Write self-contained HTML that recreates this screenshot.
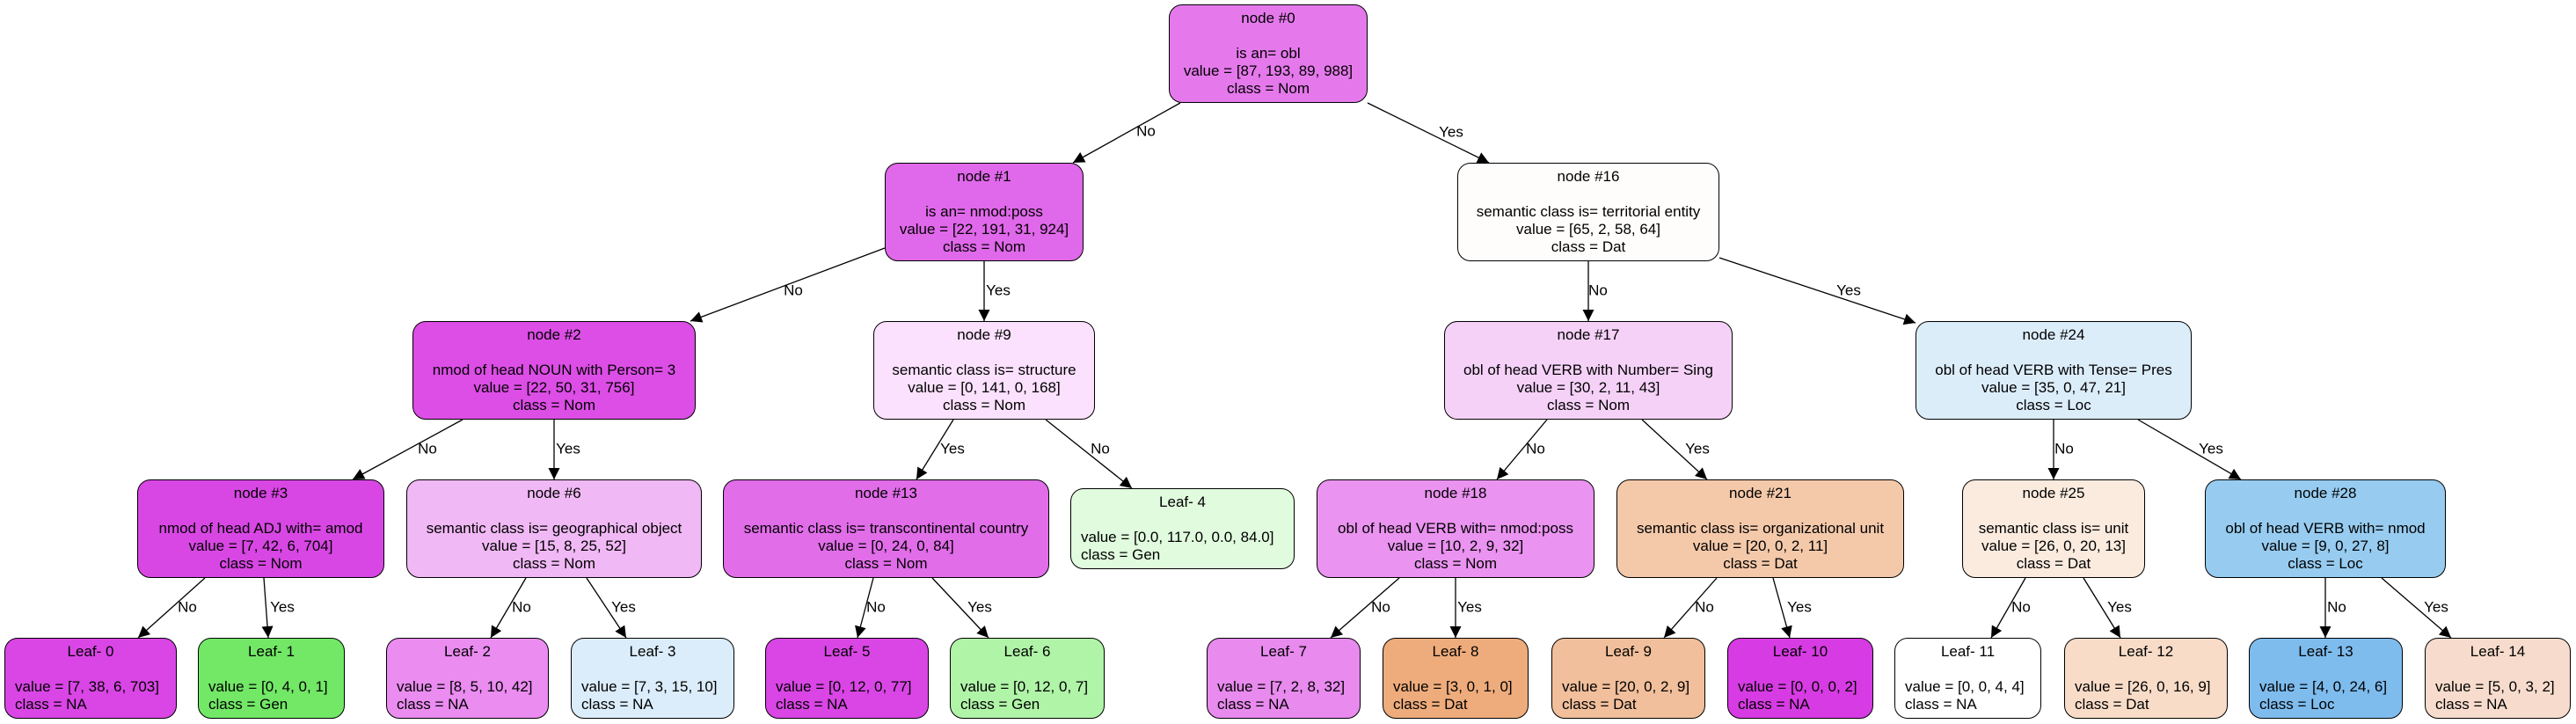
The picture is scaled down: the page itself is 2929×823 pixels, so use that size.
<!DOCTYPE html>
<html><head><meta charset="utf-8">
<style>
html,body{margin:0;padding:0;background:#fff;}
body{width:2929px;height:823px;position:relative;overflow:hidden;font-family:"Liberation Sans",Arial,sans-serif;}
.n{position:absolute;box-sizing:border-box;border:1.4px solid #000;border-radius:15px;text-align:center;font-size:17px;line-height:20px;padding-top:5px;color:#000;white-space:nowrap;}
.i{top:0;height:112px;}
.l{height:92px;top:725px;}
.l .v{text-align:left;padding-left:11px;}
svg{position:absolute;left:0;top:0;}
svg text{font-family:"Liberation Sans",Arial,sans-serif;font-size:17px;text-anchor:middle;dominant-baseline:central;}
</style></head><body>
<svg width="2929" height="823">
<defs><marker id="a" viewBox="0 0 10 10" refX="10" refY="5" markerWidth="17" markerHeight="13" markerUnits="userSpaceOnUse" orient="auto"><path d="M0,0 L10,5 L0,10 z" fill="#000"/></marker></defs>
<g stroke="#000" stroke-width="1.3" marker-end="url(#a)">
<line x1="1342" y1="117" x2="1220" y2="185"/>
<line x1="1555" y1="117" x2="1693" y2="185"/>
<line x1="1006" y1="282" x2="785" y2="365"/>
<line x1="1119" y1="297" x2="1119" y2="365"/>
<line x1="1806" y1="297" x2="1806" y2="365"/>
<line x1="1955" y1="293" x2="2178" y2="367"/>
<line x1="526" y1="477" x2="401" y2="545"/>
<line x1="630" y1="477" x2="630" y2="545"/>
<line x1="1084" y1="477" x2="1042" y2="545"/>
<line x1="1189" y1="477" x2="1287" y2="555"/>
<line x1="1759" y1="477" x2="1702" y2="545"/>
<line x1="1867" y1="477" x2="1941" y2="545"/>
<line x1="2335" y1="477" x2="2335" y2="545"/>
<line x1="2431" y1="477" x2="2548" y2="545"/>
<line x1="233" y1="657" x2="157" y2="725"/>
<line x1="300" y1="657" x2="305" y2="725"/>
<line x1="598" y1="657" x2="558" y2="725"/>
<line x1="667" y1="657" x2="712" y2="725"/>
<line x1="993" y1="657" x2="975" y2="725"/>
<line x1="1060" y1="657" x2="1124" y2="725"/>
<line x1="1591" y1="657" x2="1513" y2="725"/>
<line x1="1655" y1="657" x2="1655" y2="725"/>
<line x1="1952" y1="657" x2="1892" y2="725"/>
<line x1="2016" y1="657" x2="2035" y2="725"/>
<line x1="2303" y1="657" x2="2264" y2="725"/>
<line x1="2369" y1="657" x2="2411" y2="725"/>
<line x1="2644" y1="657" x2="2644" y2="725"/>
<line x1="2708" y1="657" x2="2787" y2="725"/>
</g>
<g>
<text x="1303" y="149">No</text>
<text x="1650" y="150">Yes</text>
<text x="902" y="330">No</text>
<text x="1135" y="330">Yes</text>
<text x="1817" y="330">No</text>
<text x="2102" y="330">Yes</text>
<text x="486" y="510">No</text>
<text x="646" y="510">Yes</text>
<text x="1083" y="510">Yes</text>
<text x="1251" y="510">No</text>
<text x="1746" y="510">No</text>
<text x="1930" y="510">Yes</text>
<text x="2347" y="510">No</text>
<text x="2514" y="510">Yes</text>
<text x="213" y="690">No</text>
<text x="321" y="690">Yes</text>
<text x="593" y="690">No</text>
<text x="709" y="690">Yes</text>
<text x="996" y="690">No</text>
<text x="1114" y="690">Yes</text>
<text x="1570" y="690">No</text>
<text x="1671" y="690">Yes</text>
<text x="1938" y="690">No</text>
<text x="2046" y="690">Yes</text>
<text x="2298" y="690">No</text>
<text x="2410" y="690">Yes</text>
<text x="2657" y="690">No</text>
<text x="2770" y="690">Yes</text>
</g>
</svg>

<div class="n i" style="left:1329px;top:5px;width:226px;background:#e579ec">node #0<br><br>is an= obl<br>value = [87, 193, 89, 988]<br>class = Nom</div>

<div class="n i" style="left:1006px;top:185px;width:226px;background:#e068ea">node #1<br><br>is an= nmod:poss<br>value = [22, 191, 31, 924]<br>class = Nom</div>
<div class="n i" style="left:1657px;top:185px;width:298px;background:#fffdfb">node #16<br><br>semantic class is= territorial entity<br>value = [65, 2, 58, 64]<br>class = Dat</div>

<div class="n i" style="left:469px;top:365px;width:322px;background:#dc4ee6">node #2<br><br>nmod of head NOUN with Person= 3<br>value = [22, 50, 31, 756]<br>class = Nom</div>
<div class="n i" style="left:993px;top:365px;width:252px;background:#fbe1fd">node #9<br><br>semantic class is= structure<br>value = [0, 141, 0, 168]<br>class = Nom</div>
<div class="n i" style="left:1642px;top:365px;width:328px;background:#f5d1f8">node #17<br><br>obl of head VERB with Number= Sing<br>value = [30, 2, 11, 43]<br>class = Nom</div>
<div class="n i" style="left:2178px;top:365px;width:314px;background:#dcedfa">node #24<br><br>obl of head VERB with Tense= Pres<br>value = [35, 0, 47, 21]<br>class = Loc</div>

<div class="n i" style="left:156px;top:545px;width:281px;background:#d847e4">node #3<br><br>nmod of head ADJ with= amod<br>value = [7, 42, 6, 704]<br>class = Nom</div>
<div class="n i" style="left:462px;top:545px;width:336px;background:#f0b8f4">node #6<br><br>semantic class is= geographical object<br>value = [15, 8, 25, 52]<br>class = Nom</div>
<div class="n i" style="left:822px;top:545px;width:371px;background:#e16de9">node #13<br><br>semantic class is= transcontinental country<br>value = [0, 24, 0, 84]<br>class = Nom</div>
<div class="n l" style="left:1217px;top:555px;width:255px;background:#e0fbdd">Leaf- 4<br><br><div class="v">value = [0.0, 117.0, 0.0, 84.0]<br>class = Gen</div></div>
<div class="n i" style="left:1497px;top:545px;width:316px;background:#ea93f0">node #18<br><br>obl of head VERB with= nmod:poss<br>value = [10, 2, 9, 32]<br>class = Nom</div>
<div class="n i" style="left:1838px;top:545px;width:327px;background:#f4c9aa">node #21<br><br>semantic class is= organizational unit<br>value = [20, 0, 2, 11]<br>class = Dat</div>
<div class="n i" style="left:2231px;top:545px;width:208px;background:#fbebdf">node #25<br><br>semantic class is= unit<br>value = [26, 0, 20, 13]<br>class = Dat</div>
<div class="n i" style="left:2507px;top:545px;width:274px;background:#97ccf0">node #28<br><br>obl of head VERB with= nmod<br>value = [9, 0, 27, 8]<br>class = Loc</div>

<div class="n l" style="left:5px;width:196px;background:#d946e5">Leaf- 0<br><br><div class="v">value = [7, 38, 6, 703]<br>class = NA</div></div>
<div class="n l" style="left:225px;width:167px;background:#72e866">Leaf- 1<br><br><div class="v">value = [0, 4, 0, 1]<br>class = Gen</div></div>
<div class="n l" style="left:439px;width:185px;background:#ea8cf0">Leaf- 2<br><br><div class="v">value = [8, 5, 10, 42]<br>class = NA</div></div>
<div class="n l" style="left:649px;width:186px;background:#dbecfa">Leaf- 3<br><br><div class="v">value = [7, 3, 15, 10]<br>class = NA</div></div>
<div class="n l" style="left:870px;width:186px;background:#d946e5">Leaf- 5<br><br><div class="v">value = [0, 12, 0, 77]<br>class = NA</div></div>
<div class="n l" style="left:1080px;width:176px;background:#b0f4a8">Leaf- 6<br><br><div class="v">value = [0, 12, 0, 7]<br>class = Gen</div></div>
<div class="n l" style="left:1372px;width:175px;background:#e88aee">Leaf- 7<br><br><div class="v">value = [7, 2, 8, 32]<br>class = NA</div></div>
<div class="n l" style="left:1572px;width:166px;background:#eeac7c">Leaf- 8<br><br><div class="v">value = [3, 0, 1, 0]<br>class = Dat</div></div>
<div class="n l" style="left:1764px;width:175px;background:#f1bf9b">Leaf- 9<br><br><div class="v">value = [20, 0, 2, 9]<br>class = Dat</div></div>
<div class="n l" style="left:1964px;width:166px;background:#d73be3">Leaf- 10<br><br><div class="v">value = [0, 0, 0, 2]<br>class = NA</div></div>
<div class="n l" style="left:2154px;width:167px;background:#ffffff">Leaf- 11<br><br><div class="v">value = [0, 0, 4, 4]<br>class = NA</div></div>
<div class="n l" style="left:2347px;width:186px;background:#f8dcc8">Leaf- 12<br><br><div class="v">value = [26, 0, 16, 9]<br>class = Dat</div></div>
<div class="n l" style="left:2557px;width:175px;background:#7fbcee">Leaf- 13<br><br><div class="v">value = [4, 0, 24, 6]<br>class = Loc</div></div>
<div class="n l" style="left:2757px;width:166px;background:#f7dccd">Leaf- 14<br><br><div class="v">value = [5, 0, 3, 2]<br>class = NA</div></div>
</body></html>
